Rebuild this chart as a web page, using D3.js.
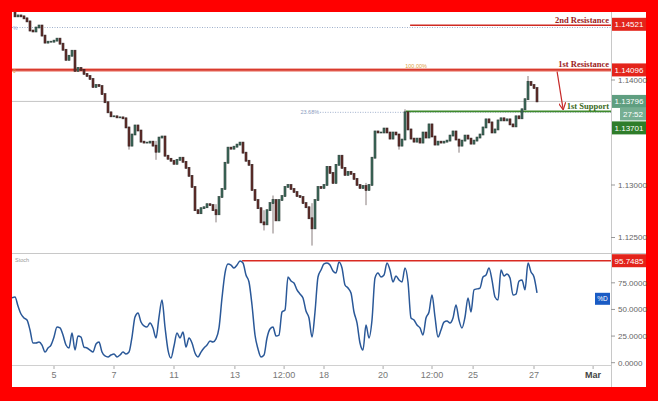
<!DOCTYPE html>
<html><head><meta charset="utf-8">
<script src="https://cdn.jsdelivr.net/npm/d3@7"></script>
<style>html,body{margin:0;padding:0;background:#ff0000;overflow:hidden;} svg{display:block;}</style>
</head><body><svg id="c" width="658" height="401"></svg>
<script>
// ---- data ----
const closes = [
1.14663,1.14606,1.14615,1.14606,1.14587,1.14558,1.14471,1.14462,1.14500,1.14519,
1.14423,1.14356,1.14365,1.14365,1.14375,1.14394,1.14346,1.14288,1.14192,1.14231,
1.14279,1.14087,1.14115,1.14096,1.14058,1.14038,1.14010,1.13933,1.13952,1.13942,
1.13865,1.13788,1.13692,1.13654,1.13654,1.13644,1.13644,1.13635,1.13548,1.13375,
1.13481,1.13567,1.13519,1.13413,1.13404,1.13404,1.13413,1.13375,1.13317,1.13452,
1.13462,1.13279,1.13250,1.13231,1.13202,1.13240,1.13260,1.13221,1.13163,1.13087,
1.12981,1.12760,1.12731,1.12779,1.12788,1.12817,1.12808,1.12760,1.12721,1.12885,
1.12962,1.13212,1.13356,1.13346,1.13365,1.13385,1.13404,1.13308,1.13231,1.13192,
1.12952,1.12856,1.12779,1.12644,1.12625,1.12760,1.12827,1.12856,1.12663,1.12856,
1.12894,1.12981,1.13000,1.12962,1.12933,1.12894,1.12885,1.12827,1.12788,1.12683,
1.12587,1.12856,1.12981,1.12971,1.13000,1.13173,1.13115,1.13019,1.13192,1.13279,
1.13163,1.13096,1.13125,1.13106,1.13058,1.13000,1.12971,1.12990,1.12952,1.13000,
1.13260,1.13510,1.13500,1.13500,1.13538,1.13500,1.13442,1.13500,1.13481,1.13375,
1.13433,1.13692,1.13529,1.13442,1.13413,1.13442,1.13404,1.13500,1.13452,1.13577,
1.13462,1.13385,1.13413,1.13404,1.13413,1.13423,1.13471,1.13510,1.13433,1.13375,
1.13423,1.13471,1.13442,1.13394,1.13423,1.13452,1.13481,1.13548,1.13625,1.13596,
1.13500,1.13529,1.13615,1.13635,1.13615,1.13625,1.13577,1.13558,1.13654,1.13635,
1.13721,1.13817,1.13981,1.13952,1.13923,1.13796
];
const wickIdx  = [39, 48, 68, 84, 87, 100, 118, 129, 131, 149, 172];
const wickHigh = [1.13548,1.13420,1.12817,1.12760,1.12900,1.12827,1.13020,1.13481,1.13721,1.13430,1.14038];
const wickLow  = [1.13337,1.13240,1.12644,1.12567,1.12538,1.12423,1.12808,1.13337,1.13529,1.13308,1.13900];
const stochD = [
60.8,61.7,53.2,45.7,42.0,40.1,30.7,18.5,18.5,19.4,
16.6,10.0,13.8,16.6,24.1,33.5,32.6,26.0,16.6,13.8,
27.9,11.9,25.1,24.1,14.7,13.8,11.9,10.0,17.6,19.4,
10.0,6.3,5.4,7.2,8.2,5.4,7.2,10.0,8.2,10.0,
24.1,42.9,46.7,38.2,34.5,33.5,37.3,32.6,23.2,42.9,
58.9,33.5,11.9,4.4,15.7,27.9,23.2,28.8,14.7,23.2,
18.5,9.1,5.4,10.0,13.8,16.6,20.4,19.4,22.3,32.6,
60.8,84.2,92.7,91.7,88.9,91.7,95.5,93.6,82.3,75.8,
54.2,26.0,12.9,5.4,7.2,23.2,31.6,33.5,25.1,26.0,
47.6,49.5,80.5,76.7,74.8,68.4,64.5,60.8,48.5,42.0,
24.1,47.6,80.5,87.0,92.7,93.6,91.7,86.1,84.2,94.6,
88.9,73.0,70.1,65.5,47.6,37.3,18.5,11.9,35.4,23.2,
40.1,79.5,84.2,80.5,82.3,93.6,87.0,75.8,81.4,77.6,
75.8,88.9,75.8,42.0,40.1,35.4,32.6,26.0,42.0,47.6,
63.6,42.9,24.1,30.7,38.2,39.2,37.3,42.0,54.2,40.1,
32.6,42.9,60.8,47.6,68.4,69.3,70.1,80.5,82.3,88.9,
77.6,61.7,58.9,87.0,81.4,83.3,79.5,63.6,64.5,76.7,
77.6,68.4,93.6,85.2,80.5,65.5
];
const dateTickIdx    = [14, 34, 54, 74.3, 90.7, 104, 123.7, 140, 153.7, 174, 193.7];
const dateTickLabels = ["5","7","11","13","12:00","18","20","12:00","25","27","Mar"];
const priceTicks = [1.125, 1.130, 1.140];
const stochTicks = [0, 25, 50, 75];
const resistance2 = 1.14521, resistance1 = 1.14096, support1 = 1.13701, lastPrice = 1.13796;
const countdown = "27:52";
const stochLevel = 95.7485;
const fibTop = 1.14500, fib236 = 1.13692;
const res2StartIdx = 132.7, supStartIdx = 131.3, fib236StartIdx = 102.7, stochLevelStartIdx = 76.7;
const arrowFrom = [181.7, 1.14080], arrowTo = [183.7, 1.13722];

// ---- layout ----
const svg = d3.select("#c");
const L = 12, R = 611, T = 12, PB = 253, ST = 254, SB = 365, FR = 646, FB = 387;
svg.append("rect").attr("x",0).attr("y",0).attr("width",658).attr("height",401).attr("fill","#ff0000");
svg.append("rect").attr("x",L).attr("y",T).attr("width",FR-L).attr("height",FB-T).attr("fill","#ffffff");

const x = d3.scaleLinear().domain([0, 175]).range([L, 537]);
const y = d3.scaleLinear().domain([1.125, 1.140]).range([237.5, 80]);
const ys = d3.scaleLinear().domain([0, 100]).range([362.7, 256.2]);

const defs = svg.append("defs");
defs.append("clipPath").attr("id","cp").append("rect").attr("x",L).attr("y",T).attr("width",R-L).attr("height",PB-T);
defs.append("clipPath").attr("id","cs").append("rect").attr("x",L).attr("y",ST).attr("width",R-L).attr("height",SB-ST);
defs.append("marker").attr("id","ah").attr("viewBox","0 0 10 10").attr("refX",9).attr("refY",5)
  .attr("markerWidth",6).attr("markerHeight",6).attr("orient","auto-start-reverse")
  .append("path").attr("d","M0,0 L10,5 L0,10").attr("fill","none").attr("stroke","#c62828").attr("stroke-width",1.6);

const sans = "'Liberation Sans', Arial, sans-serif";
const serif = "'Liberation Serif', 'Times New Roman', serif";

// panel frame lines
svg.append("line").attr("x1",L).attr("x2",FR).attr("y1",PB+0.5).attr("y2",PB+0.5).attr("stroke","#c8c8c8");
svg.append("line").attr("x1",L).attr("x2",R).attr("y1",SB+0.5).attr("y2",SB+0.5).attr("stroke","#d0d0d0");
svg.append("line").attr("x1",R+0.5).attr("x2",R+0.5).attr("y1",T).attr("y2",FB).attr("stroke","#c8c8c8");

const gp = svg.append("g").attr("clip-path","url(#cp)");

// fib / level lines
gp.append("line").attr("x1",L).attr("x2",R).attr("y1",y(fibTop)).attr("y2",y(fibTop))
  .attr("stroke","#9fb0cc").attr("stroke-dasharray","1,1.5");
gp.append("line").attr("x1",x(fib236StartIdx)).attr("x2",R).attr("y1",y(fib236)).attr("y2",y(fib236))
  .attr("stroke","#9fb0cc").attr("stroke-dasharray","1,1.5");
gp.append("line").attr("x1",L).attr("x2",R).attr("y1",y(lastPrice)).attr("y2",y(lastPrice))
  .attr("stroke","#c4c4c4").attr("stroke-width",1);
gp.append("line").attr("x1",L).attr("x2",R).attr("y1",y(resistance1)).attr("y2",y(resistance1))
  .attr("stroke","#f3b0a8").attr("stroke-width",4);
gp.append("line").attr("x1",L).attr("x2",R).attr("y1",y(resistance1)).attr("y2",y(resistance1))
  .attr("stroke","#d83a2e").attr("stroke-width",1.6);
gp.append("line").attr("x1",x(res2StartIdx)).attr("x2",R).attr("y1",y(resistance2)).attr("y2",y(resistance2))
  .attr("stroke","#cf2a22").attr("stroke-width",1.6);
gp.append("line").attr("x1",x(supStartIdx)).attr("x2",R).attr("y1",y(support1)).attr("y2",y(support1))
  .attr("stroke","#3f8a2c").attr("stroke-width",1.8);

// small labels
svg.append("text").attr("x",x(fib236StartIdx)-1).attr("y",y(fib236)+2).attr("text-anchor","end")
  .attr("font-family",sans).attr("font-size",5.5).attr("fill","#8a9cc0").text("23.68%");
svg.append("text").attr("x",x(res2StartIdx)+6).attr("y",y(resistance1)-1.5).attr("text-anchor","middle")
  .attr("font-family",sans).attr("font-size",5.5).attr("fill","#e0a040").text("100.00%");
svg.append("text").attr("x",L+1).attr("y",y(fibTop)+2).attr("font-family",sans).attr("font-size",5).attr("fill","#8aa0d0").text("%");
svg.append("text").attr("x",L+1).attr("y",y(resistance1)+3).attr("font-family",sans).attr("font-size",5).attr("fill","#e0a040").text("0");

// candles
const candles = closes.map((c,i)=>({i, c, o: i===0 ? c : closes[i-1]}));
const gc = gp.append("g");
gc.selectAll("line.w").data(wickIdx).join("line").attr("class","w")
  .attr("x1",(d)=>x(d)).attr("x2",(d)=>x(d))
  .attr("y1",(d,k)=>y(wickHigh[k])).attr("y2",(d,k)=>y(wickLow[k]))
  .attr("stroke","#6a5a5a").attr("stroke-width",0.8);
gc.selectAll("rect.c").data(candles).join("rect").attr("class","c")
  .attr("x",d=>x(d.i)-1).attr("width",2)
  .attr("y",d=>y(Math.max(d.o,d.c))-0.5)
  .attr("height",d=>Math.abs(y(d.o)-y(d.c))+1)
  .attr("fill",d=>d.c>=d.o ? "#3f6f60" : "#6a302c")
  .attr("stroke",d=>d.c>=d.o ? "#2a3a34" : "#2e1f1f").attr("stroke-width",0.6);

// arrow
svg.append("line").attr("x1",x(arrowFrom[0])).attr("y1",y(arrowFrom[1]))
  .attr("x2",x(arrowTo[0])).attr("y2",y(arrowTo[1]))
  .attr("stroke","#c62828").attr("stroke-width",1.2).attr("marker-end","url(#ah)");

// level text labels
const lvlLbl = (txt, v, col) => svg.append("text").attr("x",R-2).attr("y",y(v)-2.5).attr("text-anchor","end")
  .attr("font-family",serif).attr("font-size",8.5).attr("font-weight","bold").attr("fill",col).text(txt);
lvlLbl("2nd Resistance", resistance2, "#9c1b1b");
lvlLbl("1st Resistance", resistance1, "#9c1b1b");
lvlLbl("1st Support", support1, "#3a6a1c");

// price axis ticks
const gax = svg.append("g");
priceTicks.forEach(p=>{
  gax.append("line").attr("x1",R).attr("x2",R+4).attr("y1",y(p)).attr("y2",y(p)).attr("stroke","#999");
  gax.append("text").attr("x",R+7).attr("y",y(p)+2.8).attr("font-family",sans).attr("font-size",8)
    .attr("fill","#666").text(p.toFixed(5));
});

// badges
const badge = (yc, txt, col, x0) => {
  x0 = x0 || R+1;
  svg.append("rect").attr("x",x0).attr("y",yc-6.5).attr("width",FR-x0).attr("height",13).attr("fill",col);
  svg.append("text").attr("x",(x0+FR)/2).attr("y",yc+2.8).attr("text-anchor","middle")
    .attr("font-family",sans).attr("font-size",8).attr("fill","#fff").text(txt);
};
badge(y(resistance2)-1, resistance2.toFixed(5), "#e3241b");
badge(y(resistance1), resistance1.toFixed(5), "#e3241b");
badge(y(lastPrice), lastPrice.toFixed(5), "#5f9e80");
badge(y(lastPrice)+12.5, countdown, "#76ae92", R+9);
badge(y(support1)+16.5, support1.toFixed(5), "#2f7d2a");

// stoch panel
const gs = svg.append("g").attr("clip-path","url(#cs)");
gs.append("line").attr("x1",x(stochLevelStartIdx)).attr("x2",R).attr("y1",ys(stochLevel)).attr("y2",ys(stochLevel))
  .attr("stroke","#d92b22").attr("stroke-width",1.6);
gs.append("path").datum(stochD)
  .attr("d", d3.line().x((d,i)=>x(i)).y(d=>ys(d)).curve(d3.curveMonotoneX))
  .attr("fill","none").attr("stroke","#2a5898").attr("stroke-width",1.5);
svg.append("text").attr("x",L+3).attr("y",ST+8).attr("font-family",sans).attr("font-size",5.5).attr("fill","#999").text("Stoch");

stochTicks.forEach(v=>{
  svg.append("line").attr("x1",R).attr("x2",R+4).attr("y1",ys(v)).attr("y2",ys(v)).attr("stroke","#999");
  svg.append("text").attr("x",R+7).attr("y",ys(v)+2.8).attr("font-family",sans).attr("font-size",8)
    .attr("fill","#666").text(v.toFixed(4));
});
badge(ys(stochLevel), stochLevel.toFixed(4), "#e3241b");
svg.append("rect").attr("x",595).attr("y",ys(60)-6).attr("width",15).attr("height",12).attr("fill","#1a5bc4");
svg.append("text").attr("x",602.5).attr("y",ys(60)+2.5).attr("text-anchor","middle").attr("font-family",sans)
  .attr("font-size",6.5).attr("fill","#fff").text("%D");

// date axis
dateTickIdx.forEach((t,k)=>{
  svg.append("line").attr("x1",x(t)).attr("x2",x(t)).attr("y1",SB+1).attr("y2",SB+4).attr("stroke","#aaa");
  svg.append("text").attr("x",x(t)).attr("y",SB+13).attr("text-anchor","middle").attr("font-family",sans)
    .attr("font-size",9).attr("font-weight", dateTickLabels[k]==="Mar" ? "bold" : "normal")
    .attr("fill", dateTickLabels[k]==="Mar" ? "#444" : "#777").text(dateTickLabels[k]);
});
</script></body></html>
